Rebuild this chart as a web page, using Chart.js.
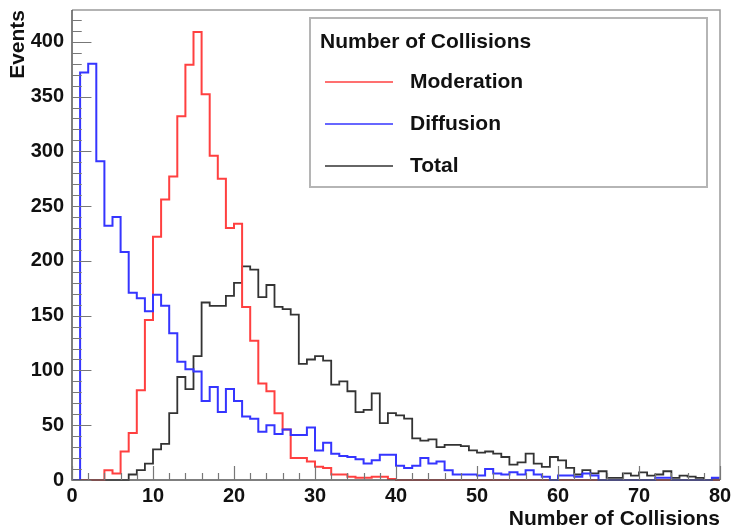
<!DOCTYPE html>
<html><head><meta charset="utf-8">
<script src="https://cdn.jsdelivr.net/npm/chart.js@4.4.1/dist/chart.umd.min.js"></script>
<style>html,body{margin:0;padding:0;background:#fff;}canvas{display:block;}</style>
</head><body>
<canvas id="c" width="733" height="532"></canvas>
<script>
// Histogram contents, one value per bin of width 1 from 0 to 80
const moderation = [0,0,0,0,9,6,26,43,82,146, 222,256,277,332,379,409,352,296,275,230,
  234,158,127,88,81,61,46,20,20,17, 12,11,5,5,3,2,2,3,3,1,
  0,0,0,0,0,0,0,0,0,0, 0,0,0,0,0,0,0,0,0,0, 0,0,0,0,0,0,0,0,0,0, 0,0,0,0,0,0,0,0,0,0];
const diffusion = [0,372,380,291,232,240,208,171,166,154, 169,159,134,108,101,99,72,85,62,83,
  72,58,56,44,50,42,46,41,41,48, 27,34,24,22,21,19,15,18,23,23,
  13,11,13,20,15,17,9,5,5,5, 4,10,6,5,7,5,9,5,3,0, 4,4,3,6,4,0,0,0,0,0, 0,0,2,2,0,0,0,0,0,2];
const total = [0,0,0,0,0,0,0,5,9,15, 28,33,61,94,83,113,162,159,159,168,
  180,195,192,167,178,158,156,151,106,110, 113,109,87,90,81,62,64,79,52,61,
  59,56,38,36,37,30,32,32,31,27, 25,26,24,21,14,16,24,15,12,21, 18,11,5,9,6,8,2,2,6,4, 7,4,5,8,2,4,3,2,0,2];
const seriesNames = ['Moderation','Diffusion','Total'];
const legendTitle = 'Number of Collisions';
const xTitle = 'Number of Collisions';
const yTitle = 'Events';

function toSteps(vals){
  const pts = vals.map((v,i)=>({x:i,y:v}));
  pts.push({x:vals.length,y:vals[vals.length-1]});
  return pts;
}
const FONT = '"Liberation Sans", Arial, Helvetica, sans-serif';

const frameTicks = {
  id:'frameTicks',
  afterDatasetsDraw(chart){
    const {ctx, chartArea:a, scales:{x,y}} = chart;
    ctx.save();
    ctx.strokeStyle='#9a9a9a'; ctx.lineWidth=1.5;
    ctx.beginPath(); ctx.moveTo(a.left,a.top); ctx.lineTo(a.right,a.top); ctx.lineTo(a.right,a.bottom); ctx.stroke();
    ctx.strokeStyle='#555'; ctx.lineWidth=1.5;
    ctx.beginPath(); ctx.moveTo(a.left,a.top); ctx.lineTo(a.left,a.bottom); ctx.lineTo(a.right,a.bottom); ctx.stroke();
    ctx.strokeStyle='#777'; ctx.lineWidth=1.2;
    const ylen = 0.03*(a.right-a.left), xlen = 0.03*(a.bottom-a.top);
    ctx.beginPath();
    for(let v=0; v<=y.max; v+=10){
      const py = Math.round(y.getPixelForValue(v))+0.5;
      const l = (v%50===0)? ylen : ylen/2;
      ctx.moveTo(a.left,py); ctx.lineTo(a.left+l,py);
    }
    for(let v=0; v<=x.max; v+=2){
      const px = Math.round(x.getPixelForValue(v))+0.5;
      const l = (v%10===0)? xlen : xlen/2;
      ctx.moveTo(px,a.bottom); ctx.lineTo(px,a.bottom-l);
    }
    ctx.stroke();
    ctx.restore();
  },
  afterDraw(chart){
    const {ctx} = chart;
    ctx.save();
    const bx=310, by=18, bw=397, bh=169;
    ctx.fillStyle='#fff'; ctx.fillRect(bx,by,bw,bh);
    ctx.strokeStyle='#b5b5b5'; ctx.lineWidth=2;
    ctx.strokeRect(bx,by,bw,bh);
    ctx.fillStyle='#111'; ctx.textBaseline='middle'; ctx.textAlign='left';
    ctx.font='bold 21px '+FONT;
    ctx.fillText(legendTitle, 320, 42);
    const ys=[82,124,166];
    chart.data.datasets.forEach((ds,i)=>{
      ctx.strokeStyle=ds.borderColor; ctx.lineWidth=1.5;
      ctx.beginPath(); ctx.moveTo(325,ys[i]); ctx.lineTo(393,ys[i]); ctx.stroke();
      ctx.fillStyle='#111';
      ctx.fillText(ds.label, 410, ys[i]);
    });
    ctx.restore();
  }
};

new Chart(document.getElementById('c'), {
  type:'line',
  data:{datasets:[
    {label:seriesNames[0], data:toSteps(moderation), borderColor:'#ff4040', borderWidth:2, stepped:'before', pointRadius:0, order:1, clip:4},
    {label:seriesNames[1], data:toSteps(diffusion), borderColor:'#3535ff', borderWidth:2, stepped:'before', pointRadius:0, order:0, clip:4},
    {label:seriesNames[2], data:toSteps(total), borderColor:'#333333', borderWidth:1.8, stepped:'before', pointRadius:0, order:2, clip:4}
  ]},
  options:{
    responsive:false, animation:false, devicePixelRatio:1,
    layout:{padding:{top:10,right:13,left:0,bottom:0}},
    plugins:{legend:{display:false}, tooltip:{enabled:false}},
    scales:{
      x:{type:'linear', min:0, max:80,
        grid:{display:false, drawTicks:false}, border:{display:false},
        ticks:{stepSize:10, padding:4, color:'#111', font:{family:FONT, size:20, weight:'bold'}, maxRotation:0, autoSkip:false},
        title:{display:true, text:xTitle, align:'end', color:'#111', font:{family:FONT, size:21, weight:'bold', lineHeight:1.2}, padding:{top:0,bottom:0}},
        afterFit(s){ s.height=52; s.paddingLeft=0; s.paddingRight=0; }
      },
      y:{type:'linear', min:0, max:429,
        grid:{display:false, drawTicks:false}, border:{display:false},
        ticks:{stepSize:50, padding:8, color:'#111', font:{family:FONT, size:20, weight:'bold'},
          callback:(v)=> (v%50===0 ? String(v) : null)},
        title:{display:true, text:yTitle, align:'end', color:'#111', font:{family:FONT, size:21, weight:'bold', lineHeight:1.2}, padding:{top:6,bottom:0}},
        afterFit(s){ s.width=72; s.paddingTop=0; s.paddingBottom=0; }
      }
    }
  },
  plugins:[frameTicks]
});
</script>
</body></html>
